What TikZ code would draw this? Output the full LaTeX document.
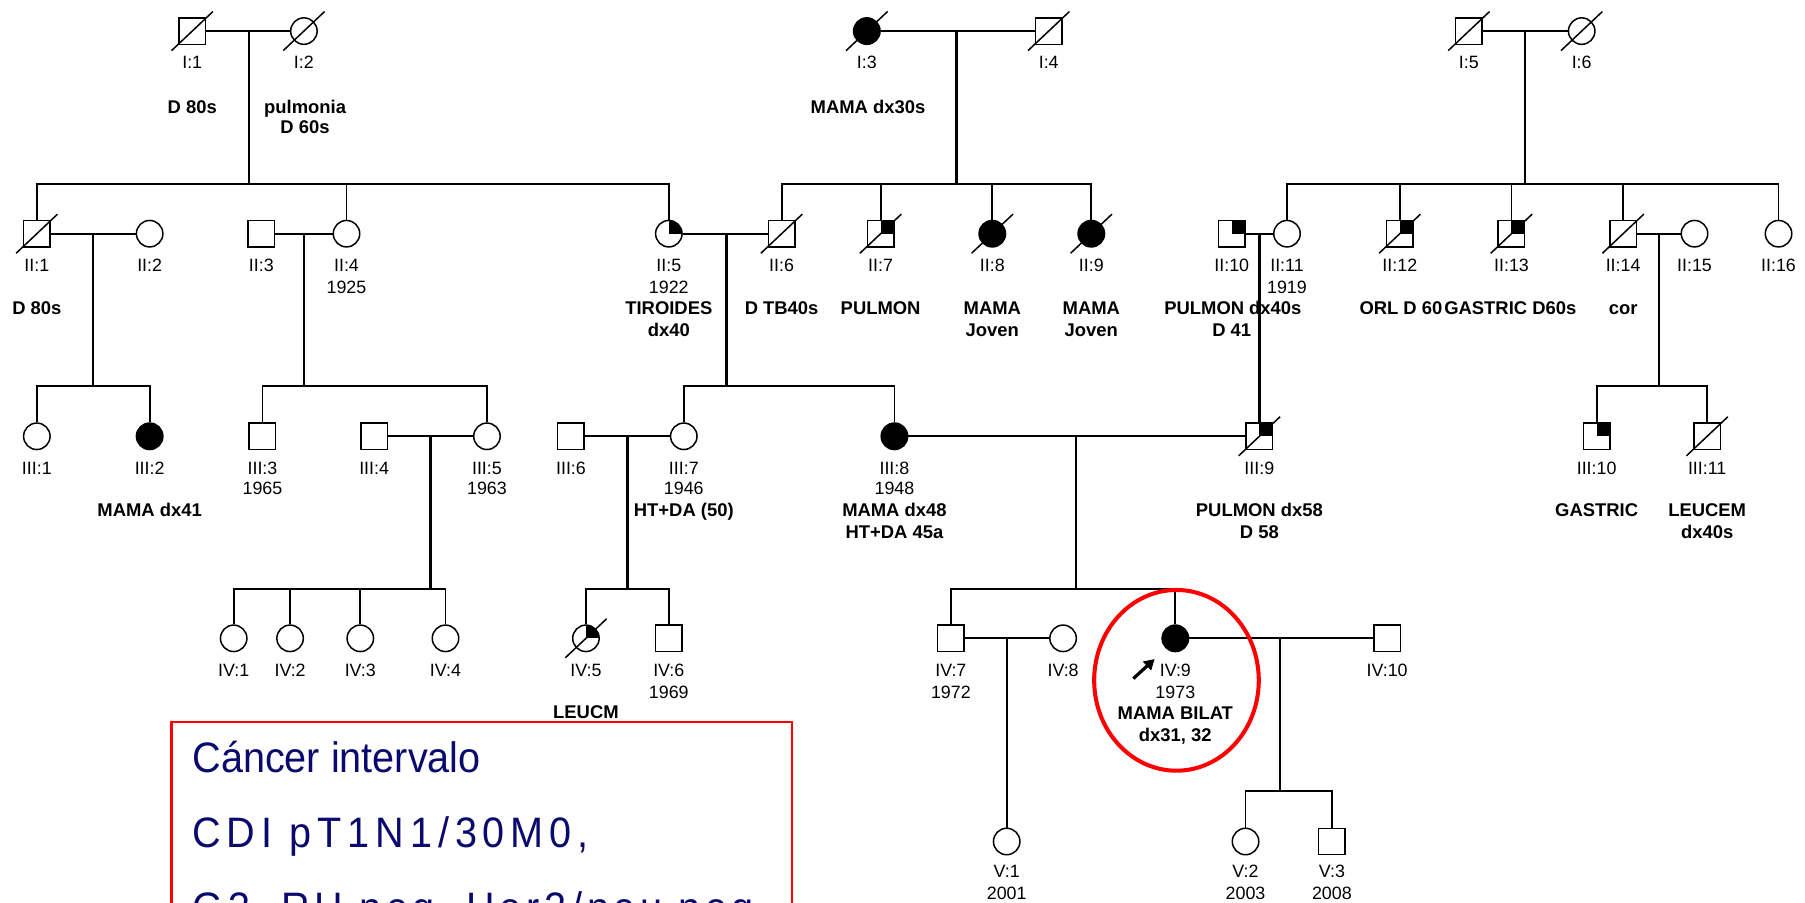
\documentclass[tikz,border=0pt]{standalone}
\usepackage{fontspec}
\setmainfont{Liberation Sans}
\usepackage{xcolor}
\usetikzlibrary{positioning, arrows.meta, shapes.geometric}
\definecolor{navytext}{RGB}{10,10,110}

\begin{document}
\begin{tikzpicture}[x=1pt, y=-1pt,
    sym/.style={draw, line width=1.3pt, minimum size=23pt, inner sep=0pt, fill=white},
    male/.style={sym, rectangle},
    female/.style={sym, circle},
    aff/.style={fill=black},
    quad/.style={path picture={\fill[black] (path picture bounding box.center) rectangle (path picture bounding box.north east);}},
    marr/.style={line width=2pt},
    kin/.style={line width=1.5pt},
    slash/.style={line width=1.3pt},
    lab/.style={anchor=base, inner sep=0pt, font=\fontsize{15.5}{18}\selectfont},
    note/.style={anchor=base, inner sep=0pt, font=\fontsize{16}{19}\selectfont\bfseries},
    boxtxt/.style={anchor=base west, inner sep=0pt, text=navytext, font=\fontsize{37}{40}\selectfont},
    proband/.style={line width=2.8pt, -{Triangle[length=9pt, width=10pt]}}
  ]
  \useasboundingbox (0,0) rectangle (1568,784);

  % generation I
  \node[male] (I1) at (167,27) {};
  \node[female] (I2) at (264,27) {};
  \node[female, aff] (I3) at (753,27) {};
  \node[male] (I4) at (911,27) {};
  \node[male] (I5) at (1276,27) {};
  \node[female] (I6) at (1374,27) {};

  % generation II
  \node[male] (II1) at (32,203) {};
  \node[female] (II2) at (130,203) {};
  \node[male] (II3) at (227,203) {};
  \node[female] (II4) at (301,203) {};
  \node[female, quad] (II5) at (581,203) {};
  \node[male] (II6) at (679,203) {};
  \node[male, quad] (II7) at (765,203) {};
  \node[female, aff] (II8) at (862,203) {};
  \node[female, aff] (II9) at (948,203) {};
  \node[male, quad] (II10) at (1070,203) {};
  \node[female] (II11) at (1118,203) {};
  \node[male, quad] (II12) at (1216,203) {};
  \node[male, quad] (II13) at (1313,203) {};
  \node[male] (II14) at (1410,203) {};
  \node[female] (II15) at (1472,203) {};
  \node[female] (II16) at (1545,203) {};

  % generation III
  \node[female] (III1) at (32,379) {};
  \node[female, aff] (III2) at (130,379) {};
  \node[male] (III3) at (228,379) {};
  \node[male] (III4) at (325,379) {};
  \node[female] (III5) at (423,379) {};
  \node[male] (III6) at (496,379) {};
  \node[female] (III7) at (594,379) {};
  \node[female, aff] (III8) at (777,379) {};
  \node[male, quad] (III9) at (1094,379) {};
  \node[male, quad] (III10) at (1387,379) {};
  \node[male] (III11) at (1483,379) {};

  % generation IV
  \node[female] (IV1) at (203,554.5) {};
  \node[female] (IV2) at (252,554.5) {};
  \node[female] (IV3) at (313,554.5) {};
  \node[female] (IV4) at (387,554.5) {};
  \node[female, quad] (IV5) at (509,554.5) {};
  \node[male] (IV6) at (581,554.5) {};
  \node[male] (IV7) at (826,554.5) {};
  \node[female] (IV8) at (923.5,554.5) {};
  \node[female, aff] (IV9) at (1021,554.5) {};
  \node[male] (IV10) at (1205,554.5) {};

  % generation V
  \node[female] (V1) at (874.5,731) {};
  \node[female] (V2) at (1082,731) {};
  \node[male] (V3) at (1157,731) {};

  \foreach \n in {I1,I2,I3,I4,I5,I6,II1,II6,II7,II8,II9,II12,II13,II14,III9,III11,IV5}
    \draw[slash] (\n.center) ++(-18pt,-17pt) -- ++(36pt,34pt);

  % ids and notes
  \node[lab] (tI1) at (167,59.4) {I:1};
  \node[lab] (tI2) at (264,59.4) {I:2};
  \node[lab] (tI3) at (753,59.4) {I:3};
  \node[lab] (tI4) at (911,59.4) {I:4};
  \node[lab] (tI5) at (1276,59.4) {I:5};
  \node[lab] (tI6) at (1374,59.4) {I:6};
  \node[note] (nI1) at (167,98.4) {D 80s};
  \node[note] (nI2a) at (265,98.4) {pulmonia};
  \node[note] (nI2b) at (265,116) {D 60s};
  \node[note] (nI3) at (754,98.4) {MAMA dx30s};

  \node[lab] (tII1) at (32,236) {II:1};
  \node[lab] (tII2) at (130,236) {II:2};
  \node[lab] (tII3) at (227,236) {II:3};
  \node[lab] (tII4) at (301,236) {II:4};
  \node[lab] (tII5) at (581,236) {II:5};
  \node[lab] (tII6) at (679,236) {II:6};
  \node[lab] (tII7) at (765,236) {II:7};
  \node[lab] (tII8) at (862,236) {II:8};
  \node[lab] (tII9) at (948,236) {II:9};
  \node[lab] (tII10) at (1070,236) {II:10};
  \node[lab] (tII11) at (1118,236) {II:11};
  \node[lab] (tII12) at (1216,236) {II:12};
  \node[lab] (tII13) at (1313,236) {II:13};
  \node[lab] (tII14) at (1410,236) {II:14};
  \node[lab] (tII15) at (1472,236) {II:15};
  \node[lab] (tII16) at (1545,236) {II:16};
  \node[lab] (yII4) at (301,255) {1925};
  \node[lab] (yII5) at (581,255) {1922};
  \node[lab] (yII11) at (1118,255) {1919};
  \node[note] (nII1) at (32,273.6) {D 80s};
  \node[note] (nII5a) at (581,273.6) {TIROIDES};
  \node[note] (nII5b) at (581,292.5) {dx40};
  \node[note] (nII6) at (679,273.6) {D TB40s};
  \node[note] (nII7) at (765,273.6) {PULMON};
  \node[note] (nII8a) at (862,273.6) {MAMA};
  \node[note] (nII8b) at (862,292.5) {Joven};
  \node[note] (nII9a) at (948,273.6) {MAMA};
  \node[note] (nII9b) at (948,292.5) {Joven};
  \node[note] (nII10a) at (1071,273.6) {PULMON dx40s};
  \node[note] (nII10b) at (1070,292.5) {D 41};
  \node[note] (nII12) at (1217,273.6) {ORL D 60};
  \node[note] (nII13) at (1312,273.6) {GASTRIC D60s};
  \node[note] (nII14) at (1410,273.6) {cor};

  \node[lab] (tIII1) at (32,412.6) {III:1};
  \node[lab] (tIII2) at (130,412.6) {III:2};
  \node[lab] (tIII3) at (228,412.6) {III:3};
  \node[lab] (tIII4) at (325,412.6) {III:4};
  \node[lab] (tIII5) at (423,412.6) {III:5};
  \node[lab] (tIII6) at (496,412.6) {III:6};
  \node[lab] (tIII7) at (594,412.6) {III:7};
  \node[lab] (tIII8) at (777,412.6) {III:8};
  \node[lab] (tIII9) at (1094,412.6) {III:9};
  \node[lab] (tIII10) at (1387,412.6) {III:10};
  \node[lab] (tIII11) at (1483,412.6) {III:11};
  \node[lab] (yIII3) at (228,430) {1965};
  \node[lab] (yIII5) at (423,430) {1963};
  \node[lab] (yIII7) at (594,430) {1946};
  \node[lab] (yIII8) at (777,430) {1948};
  \node[note] (nIII2) at (130,448.8) {MAMA dx41};
  \node[note] (nIII7) at (594,448.8) {HT+DA (50)};
  \node[note] (nIII8a) at (777,448.8) {MAMA dx48};
  \node[note] (nIII8b) at (777,467.8) {HT+DA 45a};
  \node[note] (nIII9a) at (1094,448.8) {PULMON dx58};
  \node[note] (nIII9b) at (1094,467.8) {D 58};
  \node[note] (nIII10) at (1387,448.8) {GASTRIC};
  \node[note] (nIII11a) at (1483,448.8) {LEUCEM};
  \node[note] (nIII11b) at (1483,467.8) {dx40s};

  \node[lab] (tIV1) at (203,588) {IV:1};
  \node[lab] (tIV2) at (252,588) {IV:2};
  \node[lab] (tIV3) at (313,588) {IV:3};
  \node[lab] (tIV4) at (387,588) {IV:4};
  \node[lab] (tIV5) at (509,588) {IV:5};
  \node[lab] (tIV6) at (581,588) {IV:6};
  \node[lab] (tIV7) at (826,588) {IV:7};
  \node[lab] (tIV8) at (923.5,588) {IV:8};
  \node[lab] (tIV9) at (1021,588) {IV:9};
  \node[lab] (tIV10) at (1205,588) {IV:10};
  \node[lab] (yIV6) at (581,606.6) {1969};
  \node[lab] (yIV7) at (826,606.6) {1972};
  \node[lab] (yIV9) at (1021,606.6) {1973};
  \node[note] (nIV5) at (509,624.5) {LEUCM};
  \node[note] (nIV9a) at (1021,625.4) {MAMA BILAT};
  \node[note] (nIV9b) at (1021,644.4) {dx31, 32};

  \node[lab] (tV1) at (874.5,762.7) {V:1};
  \node[lab] (tV2) at (1082,762.7) {V:2};
  \node[lab] (tV3) at (1157,762.7) {V:3};
  \node[lab] (yV1) at (874.5,781.8) {2001};
  \node[lab] (yV2) at (1082,781.8) {2003};
  \node[lab] (yV3) at (1157,781.8) {2008};

  % couples and descent
  \coordinate (mI12) at (216,27);  \coordinate (sI12) at (216,160);
  \coordinate (mI34) at (831,27);  \coordinate (sI34) at (831,160);
  \coordinate (mI56) at (1325,27); \coordinate (sI56) at (1325,160);
  \draw[marr] (I1) -- (I2);
  \draw[marr] (I3) -- (I4);
  \draw[marr] (I5) -- (I6);
  \draw[marr] (mI12) -- (sI12);
  \draw[marr] (mI34) -- (sI34);
  \draw[marr] (mI56) -- (sI56);
  \foreach \c in {II1,II4,II5} \draw[kin] (\c.north) |- (sI12);
  \foreach \c in {II6,II7,II8,II9} \draw[kin] (\c.north) |- (sI34);
  \foreach \c in {II11,II12,II13,II14,II16} \draw[kin] (\c.north) |- (sI56);

  \coordinate (mII12) at (81,203);    \coordinate (sII12) at (81,335);
  \coordinate (mII34) at (264,203);   \coordinate (sII34) at (264,335);
  \coordinate (mII56) at (631,203);   \coordinate (sII56) at (631,335);
  \coordinate (mII1011) at (1094,203);
  \coordinate (mII1415) at (1441,203); \coordinate (sII1415) at (1441,335);
  \draw[marr] (II1) -- (II2);
  \draw[marr] (II3) -- (II4);
  \draw[marr] (II5) -- (II6);
  \draw[marr] (II10) -- (II11);
  \draw[marr] (II14) -- (II15);
  \draw[marr] (mII12) -- (sII12);
  \draw[marr] (mII34) -- (sII34);
  \draw[marr] (mII56) -- (sII56);
  \draw[marr] (mII1011) -- (III9.north);
  \draw[marr] (mII1415) -- (sII1415);
  \foreach \c in {III1,III2} \draw[kin] (\c.north) |- (sII12);
  \foreach \c in {III3,III5} \draw[kin] (\c.north) |- (sII34);
  \foreach \c in {III7,III8} \draw[kin] (\c.north) |- (sII56);
  \foreach \c in {III10,III11} \draw[kin] (\c.north) |- (sII1415);

  \coordinate (mIII45) at (374,379); \coordinate (sIII45) at (374,511.6);
  \coordinate (mIII67) at (545,379); \coordinate (sIII67) at (545,511.6);
  \coordinate (mIII89) at (935,379); \coordinate (sIII89) at (935,511.6);
  \draw[marr] (III4) -- (III5);
  \draw[marr] (III6) -- (III7);
  \draw[marr] (III8) -- (III9);
  \draw[marr] (mIII45) -- (sIII45);
  \draw[marr] (mIII67) -- (sIII67);
  \draw[marr] (mIII89) -- (sIII89);
  \foreach \c in {IV1,IV2,IV3,IV4} \draw[kin] (\c.north) |- (sIII45);
  \foreach \c in {IV5,IV6} \draw[kin] (\c.north) |- (sIII67);
  \foreach \c in {IV7,IV9} \draw[kin] (\c.north) |- (sIII89);

  \coordinate (mIV78) at (874.5,554.5);
  \coordinate (mIV910) at (1112,554.5); \coordinate (sIV910) at (1112,687);
  \draw[marr] (IV7) -- (IV8);
  \draw[marr] (IV9) -- (IV10);
  \draw[kin] (mIV78) -- (V1.north);
  \draw[marr] (mIV910) -- (sIV910);
  \foreach \c in {V2,V3} \draw[kin] (\c.north) |- (sIV910);

  % proband
  \coordinate (pbase) at (984.5,589.5);
  \coordinate (ptip) at (1003,572.5);
  \draw[proband] (pbase) -- (ptip);
  \node[ellipse, draw=red, line width=3.5pt, minimum width=143pt, minimum height=157pt, inner sep=0pt] (focus) at (1022,591) {};

  % comment box
  \node[draw=red, line width=2pt, minimum width=539pt, minimum height=300pt, anchor=north west, inner sep=0pt] (infobox) at (148,626) {};
  \node[boxtxt] (bx1) at (167,671) {\scalebox{0.93}[1]{Cáncer intervalo}};
  \node[boxtxt] (bx2) at (167,736) {\scalebox{0.93}[1]{\addfontfeature{LetterSpace=15}CDI pT1N1/30M0,}};
  \node[boxtxt] (bx3) at (167,801) {\scalebox{0.93}[1]{\addfontfeature{LetterSpace=12}G3, RH neg, Her2/neu neg}};
\end{tikzpicture}
\end{document}
